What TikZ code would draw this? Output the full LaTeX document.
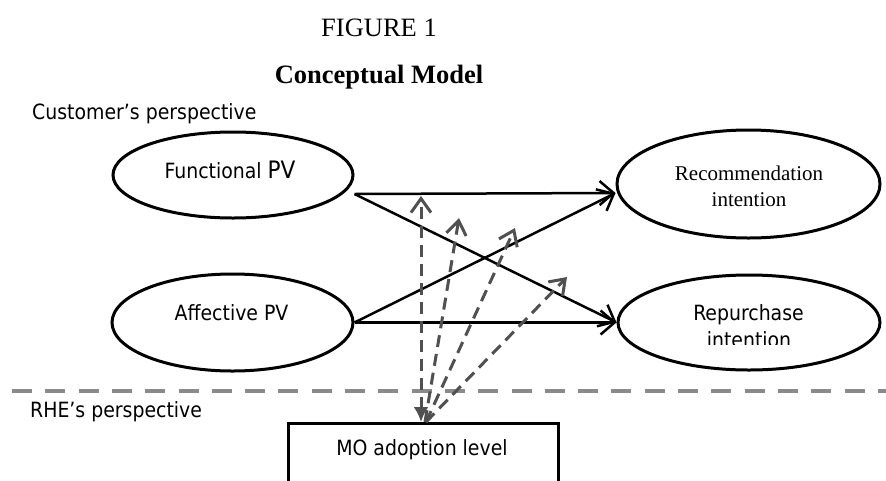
\documentclass[tikz,border=0pt]{standalone}
\usepackage{fontspec}
\setmainfont{DejaVu Sans Condensed}
\newfontfamily\titlefont{Liberation Serif}
\usetikzlibrary{arrows.meta,shapes.geometric}
\definecolor{modgray}{RGB}{80,80,80}
\definecolor{sepgray}{RGB}{138,138,138}

\begin{document}
\begin{tikzpicture}[x=1pt,y=-1pt,
  oval/.style={draw=black, line width=3pt, ellipse, inner sep=0pt},
  lbl/.style={inner sep=0pt, anchor=base, font=\fontsize{21}{24}\selectfont},
  serifl/.style={inner sep=0pt, anchor=base, font=\titlefont\fontsize{21}{24}\selectfont},
  effect/.style={draw=black, line width=2.5pt, -{Straight Barb[length=14pt,width=24pt]}},
  moderate/.style={draw=modgray, line width=3pt, dash pattern=on 12pt off 7pt,
                   -{Straight Barb[length=14pt,width=20pt]}},
  sepline/.style={draw=sepgray, line width=4pt, dash pattern=on 20pt off 13.3pt},
]
\useasboundingbox (0,0) rectangle (886,480);
\clip (0,0) rectangle (886,480);

% titles
\node[inner sep=0pt, anchor=base, font=\titlefont\fontsize{26.5}{30}\selectfont] (fig) at (379,36) {FIGURE 1};
\node[inner sep=0pt, anchor=base, font=\titlefont\bfseries\fontsize{26.5}{30}\selectfont] (ttl) at (379,83) {Conceptual Model};

% perspective labels
\node[lbl, anchor=base west] (cust) at (32,119) {Customer’s perspective};
\node[lbl, anchor=base west] (rhe) at (30,417) {RHE’s perspective};

% constructs
\node[oval, minimum width=240pt, minimum height=86pt] (fun) at (233,175) {};
\node[oval, minimum width=241pt, minimum height=97pt] (aff) at (232.5,322.5) {};
\node[oval, minimum width=263pt, minimum height=108pt] (rec) at (748.5,184) {};
\node[oval, minimum width=262pt, minimum height=95pt] (rep) at (749,322.5) {};

\node[lbl] (funT) at (230,178) {Functional {\fontsize{24}{28}\selectfont PV}};
\node[lbl] (affT) at (231.5,320) {Affective PV};
\node[serifl] (recA) at (749,180) {Recommendation};
\node[serifl] (recB) at (749,206) {intention};
\node[lbl] (repA) at (748.5,320) {Repurchase};
\begin{scope}
  \clip (600,300) rectangle (880,344);
  \node[lbl] (repB) at (749,347) {intention};
\end{scope}

% moderator box
\node[draw=black, line width=3pt, minimum width=270pt, minimum height=110pt,
      inner sep=0pt, anchor=north] (mo) at (423,422) {};
\node[lbl] (moT) at (422,455) {MO adoption level};

% separator between the two perspectives
\coordinate (sepL) at (12,391);
\coordinate (sepR) at (890,391);
\draw[sepline] (sepL) -- (sepR);

% direct effects
\draw[effect] ([yshift=-19pt]fun.east) -- ([yshift=-9pt]rec.west);
\draw[effect] ([yshift=-19pt]fun.east) -- (rep.west);
\draw[effect] (aff.east) -- ([yshift=-9pt]rec.west);
\draw[effect] (aff.east) -- (rep.west);

% moderating effects
\coordinate (m1) at (421,196);
\coordinate (m2) at (459,218);
\coordinate (m3) at (515,228);
\coordinate (m4) at (567,277);
\draw[moderate, {Latex[length=15pt,width=15pt]}-{Straight Barb[length=14pt,width=20pt]}]
  ([xshift=-2pt]mo.north) -- (m1);
\draw[moderate] ([xshift=2pt]mo.north) -- (m2);
\draw[moderate] ([xshift=3pt]mo.north) -- (m3);
\draw[moderate] ([xshift=3pt]mo.north) -- (m4);
\end{tikzpicture}
\end{document}
